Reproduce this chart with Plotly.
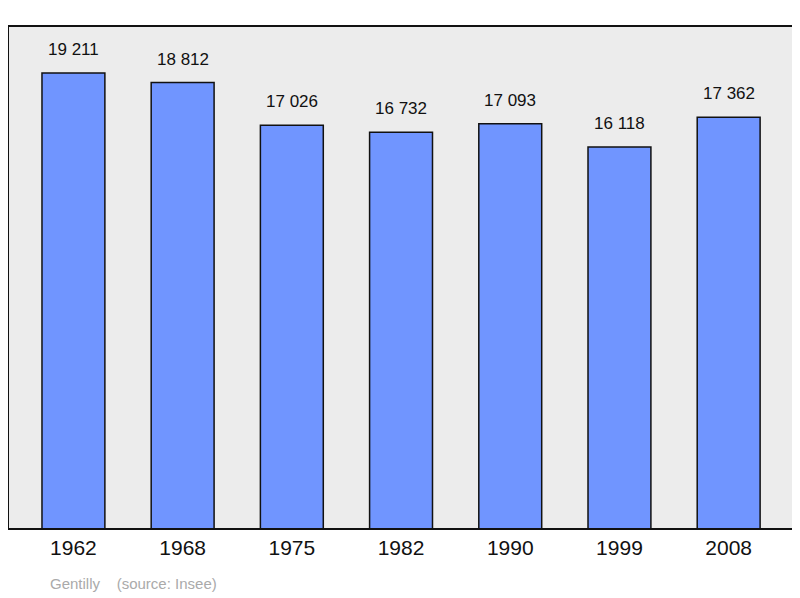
import plotly.graph_objects as go

years = ["1962", "1968", "1975", "1982", "1990", "1999", "2008"]
population = [19211, 18812, 17026, 16732, 17093, 16118, 17362]
labels = ["19 211", "18 812", "17 026", "16 732", "17 093", "16 118", "17 362"]

xs = list(range(len(years)))
fig = go.Figure(go.Bar(
    x=xs, y=population, width=0.576,
    marker=dict(color="#7095ff", line=dict(color="#111111", width=1.5)),
    hoverinfo="skip",
))
for x, v, t in zip(xs, population, labels):
    fig.add_annotation(x=x, y=v, text=t, showarrow=False, yanchor="bottom",
                       yshift=12, font=dict(size=17, color="#111111", family="Liberation Sans"))
fig.add_annotation(xref="paper", yref="paper", x=0.05, y=-0.09, xanchor="left", yanchor="top",
                   text="Gentilly&nbsp;&nbsp;&nbsp;&nbsp;(source: Insee)", showarrow=False,
                   font=dict(size=15, color="#aaaaaa", family="Liberation Sans"))
fig.update_layout(
    width=792, height=590, margin=dict(l=1, r=8, t=19, b=70),
    paper_bgcolor="white", plot_bgcolor="#ececec", showlegend=False,
    font=dict(family="Liberation Sans", color="#111111"),
    xaxis=dict(range=[-0.59, 6.58], tickvals=xs, ticktext=years, tickfont=dict(size=21),
               showgrid=False, zeroline=False, showline=True, mirror=True,
               linecolor="#111111", linewidth=2, ticks=""),
    yaxis=dict(range=[192, 21134], showticklabels=False, showgrid=False, zeroline=False,
               showline=True, mirror=True, linecolor="#111111", linewidth=2, ticks=""),
)
fig.write_html("out.html")
